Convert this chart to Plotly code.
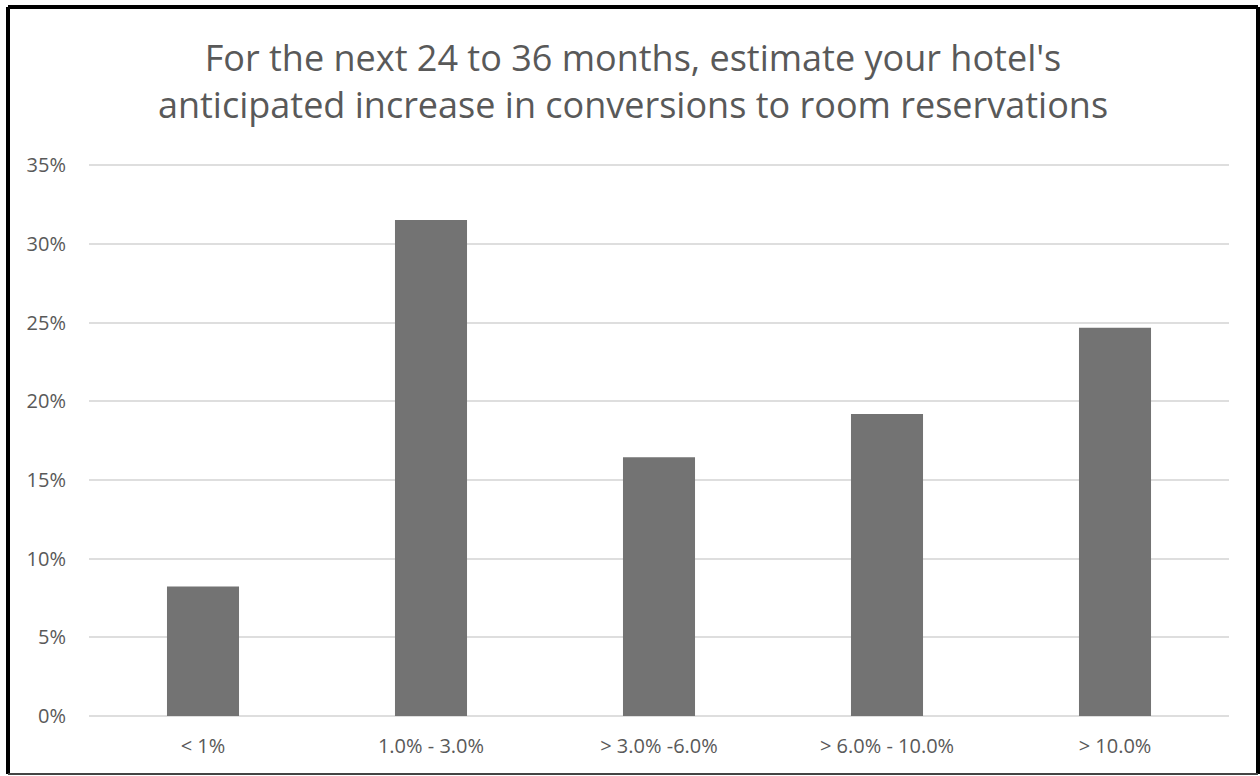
import plotly.graph_objects as go

# Survey responses: anticipated increase in conversions to room reservations
categories = ["< 1%", "1.0% - 3.0%", "> 3.0% -6.0%", "> 6.0% - 10.0%", "> 10.0%"]
shares = [8.22, 31.51, 16.44, 19.18, 24.66]
y_ticks = [0, 5, 10, 15, 20, 25, 30, 35]
y_tick_labels = ["0%", "5%", "10%", "15%", "20%", "25%", "30%", "35%"]

W, H = 1260, 776
L, R, T, B = 89, 31, 164, 60
PW, PH = W - L - R, H - T - B
Y_MAX = 35.07  # a hair above 35 so the top gridline is kept

FONT = "Open Sans"
TEXT = "#595959"


def px(x):
    return (x - L) / PW


def py(y):
    return (H - B - y) / PH


fig = go.Figure(
    go.Bar(
        x=categories,
        y=shares,
        marker=dict(color="#737373", line=dict(width=0)),
        width=0.316,
        hoverinfo="x+y",
    )
)

# Outer frame around the whole chart
frame = [
    dict(x0=px(8), x1=px(1258), y0=py(7), y1=py(7), color="black", w=4),
    dict(x0=px(8), x1=px(8), y0=py(7), y1=py(774), color="black", w=4),
    dict(x0=px(1258), x1=px(1258), y0=py(7), y1=py(774), color="black", w=4),
    dict(x0=px(8), x1=px(1258), y0=py(774), y1=py(774), color="#444444", w=2),
]
shapes = [
    dict(type="line", xref="paper", yref="paper", x0=s["x0"], x1=s["x1"],
         y0=s["y0"], y1=s["y1"], line=dict(color=s["color"], width=s["w"]))
    for s in frame
]

fig.update_layout(
    width=W,
    height=H,
    margin=dict(l=L, r=R, t=T, b=B, pad=0),
    paper_bgcolor="white",
    plot_bgcolor="white",
    showlegend=False,
    font=dict(family=FONT, color=TEXT, size=20),
    title=dict(
        text="For the next 24 to 36 months, estimate your hotel's<br>"
             "anticipated increase in conversions to room reservations",
        font=dict(family=FONT, size=36, color=TEXT),
        x=633 / W,
        xanchor="center",
        xref="container",
        y=1 - 71 / H,
        yanchor="middle",
    ),
    bargap=0.684,
    shapes=shapes,
)

fig.update_xaxes(
    showgrid=False,
    showline=False,
    zeroline=False,
    ticks="",
    tickfont=dict(family=FONT, size=20, color=TEXT),
    ticklabelstandoff=16,
    fixedrange=True,
)
fig.update_yaxes(
    range=[0, Y_MAX],
    tickvals=y_ticks,
    ticktext=y_tick_labels,
    showgrid=True,
    gridcolor="#dedede",
    gridwidth=2,
    zeroline=True,
    zerolinecolor="#dedede",
    zerolinewidth=2,
    showline=False,
    ticks="",
    tickfont=dict(family=FONT, size=20, color=TEXT),
    ticklabelstandoff=22,
    fixedrange=True,
)

fig.write_html("out.html")
